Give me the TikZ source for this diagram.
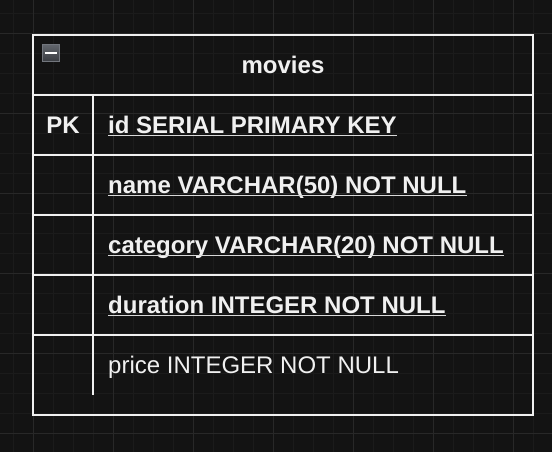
\documentclass[tikz,border=0pt]{standalone}
\usepackage{fontspec}
\setmainfont{Liberation Sans}
\definecolor{bg}{HTML}{131313}
\definecolor{gridminor}{HTML}{1B1B1B}
\definecolor{gridmajor}{HTML}{282828}
\definecolor{ink}{HTML}{F0F0F0}
\definecolor{uink}{HTML}{D8D8D8}
\definecolor{iconborder}{HTML}{72767D}
\definecolor{icontop}{HTML}{62666D}
\definecolor{iconbot}{HTML}{383B40}
\begin{document}
\begin{tikzpicture}[x=1pt,y=-1pt,
  field/.style={anchor=base west,inner sep=0pt,text=ink,font=\fontsize{24}{28}\selectfont\bfseries},
  plainfield/.style={field,font=\fontsize{24}{28}\selectfont},
  uline/.style={draw=uink,line width=1.5pt},
  border/.style={draw=ink,line width=2pt},
  minorline/.style={draw=gridminor,line width=1pt},
  majorline/.style={draw=gridmajor,line width=1pt},
  iconbox/.style={draw=iconborder,line width=1.5pt,top color=icontop,bottom color=iconbot,minimum size=17pt,inner sep=0pt}]
\fill[bg] (0,0) rectangle (552,452);
\useasboundingbox (0,0) rectangle (552,452);
% grid
\foreach \i in {0,...,27} \draw[minorline] ({13.3+20*\i},0) -- ++(0,452);
\foreach \i in {0,...,22} \draw[minorline] (0,{13.3+20*\i}) -- ++(552,0);
\foreach \i in {0,...,6} \draw[majorline] ({33.3+80*\i},0) -- ++(0,452);
\foreach \i in {0,...,5} \draw[majorline] (0,{33.3+80*\i}) -- ++(552,0);
% table
\draw[border] (33,35) rectangle (533,415);
\foreach \y in {95,155,215,275,335} \draw[border] (33,\y) -- (533,\y);
\draw[border] (93,95) -- (93,395);
% collapse icon
\node[iconbox] (icon) at (51,53) {};
\draw[white,line width=2pt] ([xshift=3pt]icon.west) -- ([xshift=-3pt]icon.east);
% texts
\node[field,anchor=base] (title) at (283,73.5) {movies};
\node[field,anchor=base] (pk) at (63,133.5) {PK};
\node[field] (f1) at (108,133.5) {id SERIAL PRIMARY KEY};
\node[field] (f2) at (108,193.5) {name VARCHAR(50) NOT NULL};
\node[field] (f3) at (108,253.5) {category VARCHAR(20) NOT NULL};
\node[field] (f4) at (108,313.5) {duration INTEGER NOT NULL};
\node[plainfield] (f5) at (108,373.5) {price INTEGER NOT NULL};
\foreach \n in {f1,f2,f3,f4}
  \draw[uline] ([yshift=-1.8pt]\n.base west) -- ([yshift=-1.8pt]\n.base east);
\end{tikzpicture}
\end{document}
